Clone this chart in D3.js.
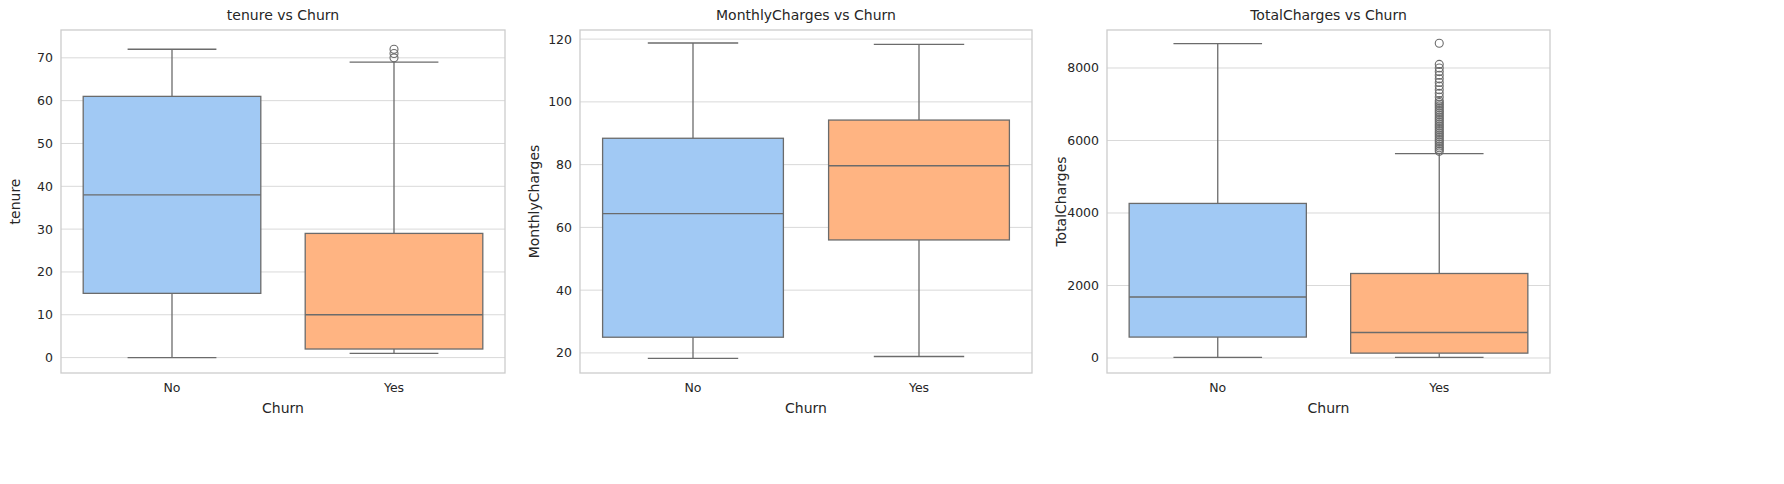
<!DOCTYPE html>
<html><head><meta charset="utf-8">
<script src="https://cdn.jsdelivr.net/npm/d3@7"></script>
<style>body{margin:0;background:#fff}</style></head>
<body><svg id="c" width="1784" height="484"></svg>
<script>
const categories = ["No","Yes"];
const colors = ["#a1c9f4","#ffb482"];
const tenureStats = [[0,15,38,61,72],[1,2,10,29,69]];
const tenureOutliers = [[],[70,71,72]];
const monthlyStats = [[18.25,25,64.4,88.4,118.75],[18.85,56,79.65,94.2,118.35]];
const monthlyOutliers = [[],[]];
const totalStats = [[18.8,577,1683,4264,8672],[18.85,134,703,2331,5640]];
const totalOutliers = [[],[5700,5750,5800,5850,5900,5950,6000,6050,6100,6150,6200,6250,6300,6350,6400,6450,6500,6550,6600,6650,6700,6750,6800,6850,6900,6950,7000,7050,7100,7200,7300,7400,7500,7600,7700,7800,7900,8000,8100,8684]];
const tenureTicks=[0,10,20,30,40,50,60,70];
const monthlyTicks=[20,40,60,80,100,120];
const totalTicks=[0,2000,4000,6000,8000];

const panels=[
 {title:"tenure vs Churn",ylab:"tenure",stats:tenureStats,out:tenureOutliers,ticks:tenureTicks,dom:[-3.6,76.5],x0:61,x1:505},
 {title:"MonthlyCharges vs Churn",ylab:"MonthlyCharges",stats:monthlyStats,out:monthlyOutliers,ticks:monthlyTicks,dom:[13.6,122.9],x0:580,x1:1032},
 {title:"TotalCharges vs Churn",ylab:"TotalCharges",stats:totalStats,out:totalOutliers,ticks:totalTicks,dom:[-414,9048],x0:1107,x1:1550}
];
const svg=d3.select("#c"), topY=30, bot=373, font="DejaVu Sans, sans-serif", tc="#262626";
panels.forEach(p=>{
 const g=svg.append("g");
 const x=d3.scaleBand().domain(categories).range([p.x0,p.x1]);
 const y=d3.scaleLinear().domain(p.dom).range([bot,topY]);
 g.selectAll(".gl").data(p.ticks).join("line").attr("x1",p.x0).attr("x2",p.x1)
  .attr("y1",d=>y(d)).attr("y2",d=>y(d)).attr("stroke","#d9d9d9").attr("stroke-width",1);
 g.append("g").attr("transform",`translate(${p.x0},0)`).call(d3.axisLeft(y).tickValues(p.ticks).tickSize(0).tickPadding(8).tickFormat(d3.format("d")))
  .call(a=>{a.select(".domain").remove();a.selectAll("text").attr("font-size",12.5).attr("font-family",font).attr("fill",tc);});
 g.append("g").attr("transform",`translate(0,${bot})`).call(d3.axisBottom(x).tickSize(0).tickPadding(10))
  .call(a=>{a.select(".domain").remove();a.selectAll("text").attr("font-size",12.5).attr("font-family",font).attr("fill",tc);});
 const bw=x.bandwidth()*0.8, cap=bw/2, st="#6b6b6b";
 categories.forEach((c,i)=>{
  const s=p.stats[i], cx=x(c)+x.bandwidth()/2;
  g.append("line").attr("x1",cx).attr("x2",cx).attr("y1",y(s[0])).attr("y2",y(s[1])).attr("stroke",st).attr("stroke-width",1.3);
  g.append("line").attr("x1",cx).attr("x2",cx).attr("y1",y(s[3])).attr("y2",y(s[4])).attr("stroke",st).attr("stroke-width",1.3);
  [s[0],s[4]].forEach(v=>g.append("line").attr("x1",cx-cap/2).attr("x2",cx+cap/2).attr("y1",y(v)).attr("y2",y(v)).attr("stroke",st).attr("stroke-width",1.3));
  g.append("rect").attr("x",cx-bw/2).attr("width",bw).attr("y",y(s[3])).attr("height",y(s[1])-y(s[3])).attr("fill",colors[i]).attr("stroke",st).attr("stroke-width",1.3);
  g.append("line").attr("x1",cx-bw/2).attr("x2",cx+bw/2).attr("y1",y(s[2])).attr("y2",y(s[2])).attr("stroke",st).attr("stroke-width",1.3);
  g.selectAll(null).data(p.out[i]).join("circle").attr("cx",cx).attr("cy",d=>y(d)).attr("r",4).attr("fill","none").attr("stroke",st).attr("stroke-width",1.1);
 });
 g.append("rect").attr("x",p.x0).attr("y",topY).attr("width",p.x1-p.x0).attr("height",bot-topY).attr("fill","none").attr("stroke","#cccccc").attr("stroke-width",1.3);
 g.append("text").attr("x",(p.x0+p.x1)/2).attr("y",20).attr("text-anchor","middle").attr("font-size",14).attr("font-family",font).attr("fill",tc).text(p.title);
 g.append("text").attr("x",(p.x0+p.x1)/2).attr("y",413).attr("text-anchor","middle").attr("font-size",14).attr("font-family",font).attr("fill",tc).text("Churn");
 g.append("text").attr("transform",`translate(${p.x0-41},${(topY+bot)/2}) rotate(-90)`).attr("text-anchor","middle").attr("font-size",14).attr("font-family",font).attr("fill",tc).text(p.ylab);
});
</script></body></html>
